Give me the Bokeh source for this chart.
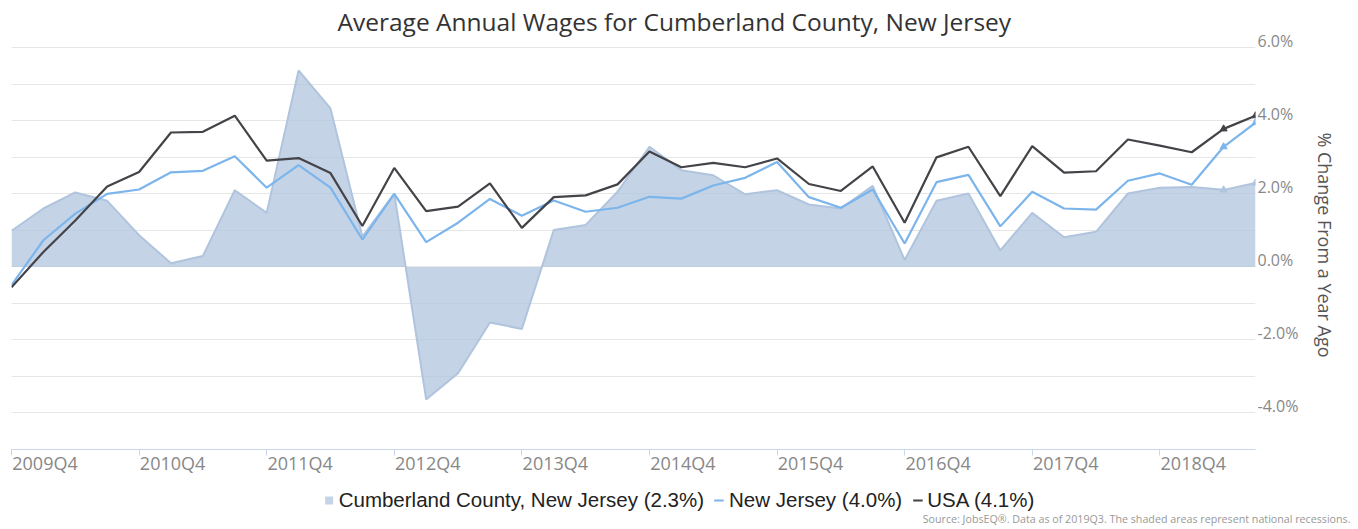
from bokeh.plotting import figure
from bokeh.layouts import column
from bokeh.models import (Legend, LegendItem, FixedTicker, PrintfTickFormatter,
                          Label, ColumnDataSource, LinearAxis, Range1d, Grid)
from bokeh.embed import file_html
from bokeh.resources import INLINE

quarters = ["2009Q4",
            "2010Q1", "2010Q2", "2010Q3", "2010Q4",
            "2011Q1", "2011Q2", "2011Q3", "2011Q4",
            "2012Q1", "2012Q2", "2012Q3", "2012Q4",
            "2013Q1", "2013Q2", "2013Q3", "2013Q4",
            "2014Q1", "2014Q2", "2014Q3", "2014Q4",
            "2015Q1", "2015Q2", "2015Q3", "2015Q4",
            "2016Q1", "2016Q2", "2016Q3", "2016Q4",
            "2017Q1", "2017Q2", "2017Q3", "2017Q4",
            "2018Q1", "2018Q2", "2018Q3", "2018Q4",
            "2019Q1", "2019Q2", "2019Q3"]

cumberland = [0.99, 1.60, 2.04, 1.81, 0.87, 0.10, 0.30, 2.10, 1.48, 5.38,
              4.34, 0.83, 2.01, -3.63, -2.91, -1.52, -1.70, 1.01, 1.15, 2.06,
              3.29, 2.65, 2.51, 1.99, 2.10, 1.71, 1.60, 2.22, 0.19, 1.81,
              2.01, 0.45, 1.48, 0.81, 0.96, 2.01, 2.17, 2.19, 2.11, 2.30]

new_jersey = [-0.50, 0.73, 1.46, 2.00, 2.12, 2.59, 2.63, 3.03, 2.17, 2.79,
              2.17, 0.75, 2.00, 0.68, 1.21, 1.86, 1.40, 1.82, 1.51, 1.62,
              1.92, 1.87, 2.23, 2.44, 2.87, 1.91, 1.62, 2.12, 0.64, 2.32,
              2.52, 1.11, 2.06, 1.60, 1.57, 2.36, 2.56, 2.25, 3.29, 3.95]

usa = [-0.56, 0.41, 1.27, 2.20, 2.60, 3.68, 3.70, 4.14, 2.91, 2.98,
       2.57, 1.12, 2.71, 1.53, 1.65, 2.29, 1.07, 1.91, 1.96, 2.26,
       3.16, 2.73, 2.85, 2.73, 2.97, 2.27, 2.08, 2.75, 1.21, 3.00,
       3.29, 1.94, 3.31, 2.58, 2.62, 3.49, 3.32, 3.14, 3.78, 4.14]

labels = ["Cumberland County, New Jersey (2.3%)", "New Jersey (4.0%)", "USA (4.1%)"]
title_text = "Average Annual Wages for Cumberland County, New Jersey"
y_title = "% Change From a Year Ago"
source_text = "Source: JobsEQ®. Data as of 2019Q3. The shaded areas represent national recessions."
y_ticks = [-4, -2, 0, 2, 4, 6]
grid_ticks = [-4, -3, -2, -1, 0, 1, 2, 3, 4, 5, 6]
x_label_ticks = list(range(0, len(quarters), 4))

AREA_FILL = "#b0c4de"
NJ_COLOR = "#7cb5ec"
US_COLOR = "#434348"
W = 1358

n = len(quarters)
idx = list(range(n))
y_lo, y_hi = -5, 6.2
src = ColumnDataSource(dict(x=idx, q=quarters, c=cumberland, nj=new_jersey, us=usa))
prelim = ColumnDataSource(dict(x=idx[-2:], c=cumberland[-2:], nj=new_jersey[-2:], us=usa[-2:]))

p = figure(frame_width=1244, frame_height=409, output_backend="svg", toolbar_location=None,
           x_range=(0, n - 1), y_range=(y_lo, y_hi),
           x_axis_location=None, y_axis_location=None,
           min_border_left=11, min_border_right=103, min_border_top=40, min_border_bottom=31)
p.outline_line_color = None
p.background_fill_color = "white"
p.border_fill_color = "white"
p.xgrid.visible = False
p.ygrid.visible = False

p.title.text = title_text
p.title.align = "left"
p.title.offset = 326
p.title.text_font = "Open Sans"
p.title.text_font_size = "24.5px"
p.title.text_font_style = "normal"
p.title.text_color = "#333333"
p.title.text_line_height = 1.0
p.title.standoff = 5

# shifted ranges so tick labels sit like the original (left-aligned / just above the grid line)
x_shift = 1.05
y_shift = 0.2
p.extra_x_ranges = {"lab": Range1d(-x_shift, n - 1 - x_shift)}
p.extra_y_ranges = {"lab": Range1d(y_lo - y_shift, y_hi - y_shift)}

grid = Grid(dimension=1, ticker=FixedTicker(ticks=grid_ticks), grid_line_color="#e6e6e6")
p.add_layout(grid)

p.varea(x="x", y1=0, y2="c", source=src, fill_color=AREA_FILL, fill_alpha=0.75)
p.line(x="x", y="c", source=src, line_color=AREA_FILL, line_width=2)
p.line(x="x", y="nj", source=src, line_color=NJ_COLOR, line_width=2.2)
p.line(x="x", y="us", source=src, line_color=US_COLOR, line_width=2.2)
p.scatter(x="x", y="c", source=prelim, marker="triangle", size=7, color=AREA_FILL)
p.scatter(x="x", y="nj", source=prelim, marker="triangle", size=7, color=NJ_COLOR)
p.scatter(x="x", y="us", source=prelim, marker="triangle", size=7, color=US_COLOR)

# x axis: labels left-aligned at the tick marks (tick marks drawn as minor ticks)
xl = LinearAxis(x_range_name="lab",
                ticker=FixedTicker(ticks=x_label_ticks,
                                   minor_ticks=[t - x_shift for t in x_label_ticks]),
                major_label_overrides={i: quarters[i] for i in x_label_ticks},
                axis_line_color="#ccd6eb", major_tick_line_color=None,
                minor_tick_line_color="#ccd6eb", minor_tick_out=6, minor_tick_in=0,
                major_tick_out=0, major_tick_in=0, major_label_standoff=-5,
                major_label_text_font="Open Sans", major_label_text_font_size="18px",
                major_label_text_color="#888888")
p.add_layout(xl, "below")

# y axis on the right
ya = LinearAxis(y_range_name="lab", ticker=FixedTicker(ticks=y_ticks),
                formatter=PrintfTickFormatter(format="%.1f%%"),
                axis_line_color=None, major_tick_line_color=None, minor_tick_line_color=None,
                major_tick_out=0, major_tick_in=0,
                major_label_text_font="Open Sans", major_label_text_font_size="16px",
                major_label_text_color="#888888", major_label_standoff=2,
                axis_label=y_title, axis_label_text_font="Open Sans",
                axis_label_text_font_size="18px", axis_label_text_font_style="normal",
                axis_label_text_color="#555555", axis_label_standoff=12)
p.add_layout(ya, "right")

# bottom strip: legend + source note
leg_h = 49
can_unalign = "frame_align" in p.properties()
xr = (0, W) if can_unalign else (11, 11 + 1244)
q = figure(width=W, height=leg_h, output_backend="svg", toolbar_location=None,
           x_range=xr, y_range=(0, leg_h),
           x_axis_location=None, y_axis_location=None, min_border=0)
if can_unalign:
    p.frame_align = False
    q.frame_align = False
q.outline_line_color = None
q.xgrid.visible = False
q.ygrid.visible = False
nan = float("nan")
blank = ColumnDataSource(dict(x=[nan], y=[nan]))
a_r = q.varea(x="x", y1="y", y2="y", source=blank, fill_color=AREA_FILL, fill_alpha=0.75)
n_r = q.line(x="x", y="y", source=blank, line_color=NJ_COLOR, line_width=2.2)
u_r = q.line(x="x", y="y", source=blank, line_color=US_COLOR, line_width=2.2)

legend = Legend(items=[LegendItem(label=labels[0], renderers=[a_r], index=0),
                       LegendItem(label=labels[1], renderers=[n_r], index=0),
                       LegendItem(label=labels[2], renderers=[u_r], index=0)],
                orientation="horizontal", location="top_center",
                label_text_font="Liberation Sans", label_text_font_size="20.5px",
                label_text_color="#222222",
                glyph_width=10, glyph_height=10, label_standoff=5, spacing=10,
                padding=0, margin=8, border_line_color=None, background_fill_alpha=0)
q.add_layout(legend)

src_label = Label(x=min(1350, xr[1]), y=11, x_units="data", y_units="data",
                  text=source_text, text_align="right", text_baseline="middle",
                  text_font="Open Sans", text_font_size="10.7px", text_color="#999999")
q.add_layout(src_label)

layout = column(p, q, spacing=0)
open("out.html", "w").write(file_html(layout, INLINE))
